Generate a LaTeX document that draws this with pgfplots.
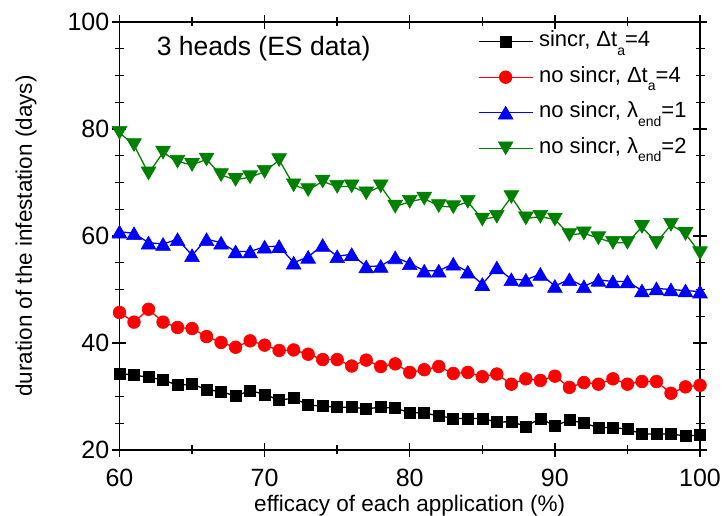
\documentclass[border=0pt]{standalone}
\usepackage{pgfplots}
\pgfplotsset{compat=1.18}
\usepackage{pgfplotstable}
\usepackage{fontspec}
\setmainfont{Liberation Sans}
\definecolor{ogreen}{RGB}{0,128,0}

\pgfplotstableread{
x a b c d
60 34.3 45.7 60.8 79.3
61 34.0 43.9 60.5 77.0
62 33.6 46.3 58.75 71.7
63 33.1 43.9 58.5 75.6
64 32.1 42.9 59.4 73.9
65 32.3 42.7 56.4 73.3
66 31.3 41.2 59.4 74.3
67 30.9 40.1 58.75 71.4
68 30.1 39.2 57.1 70.5
69 31.1 40.4 57.1 71.0
70 30.4 39.6 58.0 72.0
71 29.3 38.6 58.1 74.2
72 29.7 38.7 55.0 69.5
73 28.4 37.9 56.1 68.6
74 28.2 36.9 58.3 70.2
75 28.0 36.9 56.2 69.2
76 28.0 35.7 56.6 69.3
77 27.7 36.8 54.3 68.0
78 28.0 35.6 54.4 69.3
79 27.8 36.1 56.0 65.5
80 27.0 34.5 54.9 66.4
81 26.9 35.0 53.5 67.0
82 26.4 35.6 53.5 65.6
83 25.9 34.3 54.8 65.4
84 25.9 34.5 53.3 66.4
85 25.9 33.7 51.0 63.1
86 25.2 34.2 54.1 63.6
87 25.3 32.3 51.9 67.3
88 24.4 33.3 51.8 63.3
89 25.9 33.0 52.9 63.6
90 24.5 33.8 50.65 63.1
91 25.6 31.7 51.9 60.2
92 25.0 32.6 50.6 60.5
93 24.2 32.3 51.8 59.6
94 24.2 33.3 51.5 58.75
95 23.9 32.3 51.5 58.75
96 23.0 32.8 49.8 61.7
97 23.0 32.8 50.2 58.75
98 23.0 30.6 50.0 62.1
99 22.6 31.8 49.8 60.4
100 22.8 32.1 49.6 56.8
}\datatable

\newcommand{\sub}[1]{\raisebox{-0.38em}{\fontsize{14}{14}\selectfont #1}}

\begin{document}
\begin{tikzpicture}
\begin{axis}[
  scale only axis, width=580.5pt, height=428pt,
  xmin=60, xmax=100, ymin=20, ymax=100,
  xtick={60,70,80,90,100}, ytick={20,40,60,80,100},
  minor x tick num=1, minor y tick num=3,
  tick align=center,
  major tick length=14pt, minor tick length=9pt,
  axis line style={line width=1.6pt},
  every tick/.style={black, line width=1.4pt},
  tick label style={font=\fontsize{25}{25}\selectfont, inner sep=0pt},
  /pgf/number format/assume math mode=true,
  xticklabel style={anchor=north, yshift=-12pt},
  yticklabel style={anchor=east, xshift=-3pt},
  xlabel={efficacy of each application (\%)},
  ylabel={duration of the infestation (days)},
  label style={font=\fontsize{22.5}{22.5}\selectfont},
  xlabel style={at={(axis description cs:0.5,-0.131)}, anchor=center},
  ylabel style={at={(axis description cs:-0.16107,0.5)}, anchor=center},
  legend cell align=left,
  legend style={at={(rel axis cs:0.6176,0.9797)}, anchor=north west, draw=none, fill=none,
    inner sep=0pt, outer sep=0pt, font=\fontsize{22}{22}\selectfont, row sep=13.5pt,
    nodes={inner sep=0pt, text height=16pt, text depth=6pt},
    /tikz/every odd column/.append style={column sep=5.7pt}},
  legend image code/.code={\draw[mark repeat=2, mark phase=2] plot coordinates {(0pt,0pt) (27pt,0pt) (54pt,0pt)};},
]
\addplot[black, line width=1.3pt, mark=square*, mark size=5.5pt, mark options={line width=0.6pt}] table[x=x,y=a]{\datatable};
\addlegendentry{sincr, Δt\sub{a}=4}
\addplot[red, line width=1.3pt, mark=*, mark size=6.35pt, mark options={line width=0.6pt}] table[x=x,y=b]{\datatable};
\addlegendentry{no sincr, Δt\sub{a}=4}
\addplot[blue, line width=1.3pt, mark=triangle*, mark size=8.5pt, mark options={line width=0.6pt, yshift=-2.1pt}] table[x=x,y=c]{\datatable};
\addlegendentry{no sincr, λ\sub{end}=1}
\addplot[ogreen, line width=1.3pt, mark=triangle*, mark size=8.5pt, mark options={line width=0.6pt, yshift=2.1pt, rotate=180}] table[x=x,y=d]{\datatable};
\addlegendentry{no sincr, λ\sub{end}=2}
\node[anchor=base west, inner sep=0pt, font=\fontsize{26.5}{26.5}\selectfont] at (axis cs:62.56,93.83) {3 heads (ES data)};
\end{axis}
\pgfresetboundingbox
\path ([xshift=-119.5pt,yshift=-66pt]current axis.south west) rectangle ([xshift=25pt,yshift=22pt]current axis.north east);
\end{tikzpicture}
\end{document}
